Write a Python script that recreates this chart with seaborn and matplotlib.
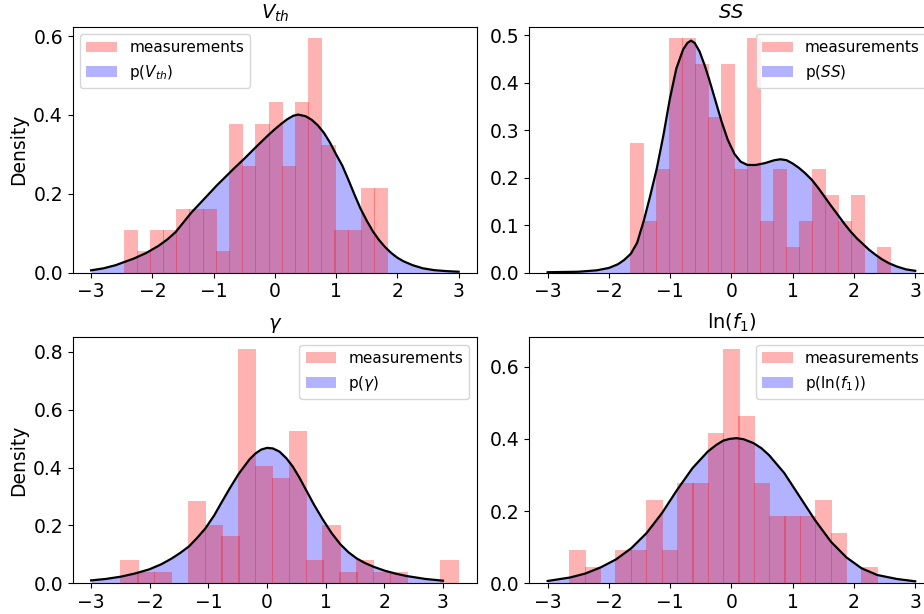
import numpy as np
import matplotlib
matplotlib.use("Agg")
import matplotlib.pyplot as plt
import seaborn as sns
from matplotlib.patches import Patch

# ---------------- data ----------------
titles = ["$V_{th}$", "$SS$", "$\\gamma$", "ln($f_1$)"]
model_labels = ["p($V_{th}$)", "p($SS$)", "p($\\gamma$)", "p(ln($f_1$))"]
legend_locs = ["upper left", "upper right", "upper right", "upper right"]

# measurement histograms: 20 bins between data min and max, counts per bin
vth_range = (-2.462, 1.843)
vth_counts = [2, 1, 2, 2, 3, 3, 3, 1, 7, 5, 7, 8, 5, 8, 11, 6, 2, 2, 4, 4]
ss_range = (-1.642, 2.598)
ss_counts = [5, 2, 4, 9, 9, 8, 6, 8, 4, 9, 2, 4, 1, 2, 4, 3, 2, 3, 0, 1]
gamma_range = (-2.49, 3.255)
gamma_counts = [2, 1, 1, 0, 7, 5, 4, 20, 10, 9, 13, 2, 5, 1, 2, 1, 1, 0, 0, 2]
lnf1_range = (-2.636, 2.381)
lnf1_counts = [2, 1, 0, 2, 2, 5, 2, 6, 6, 9, 14, 10, 6, 4, 4, 4, 5, 3, 0, 1]

# model density curves p(.)
vth_px = [-3.0, -2.8, -2.6, -2.46, -2.3, -2.1, -1.9, -1.75, -1.62, -1.36, -1.1,
          -0.95, -0.8, -0.65, -0.5, -0.3, -0.1, 0.0, 0.1, 0.2, 0.3, 0.38, 0.5,
          0.6, 0.7, 0.8, 0.9, 1.0, 1.1, 1.2, 1.3, 1.4, 1.5, 1.6, 1.7, 1.8, 1.9,
          2.0, 2.1, 2.25, 2.42, 2.6, 2.8, 3.0]
vth_py = [0.006, 0.011, 0.019, 0.027, 0.036, 0.050, 0.068, 0.085, 0.103, 0.153,
          0.196, 0.221, 0.244, 0.267, 0.289, 0.320, 0.350, 0.364, 0.377, 0.389,
          0.398, 0.401, 0.397, 0.388, 0.374, 0.355, 0.330, 0.300, 0.272, 0.236,
          0.198, 0.162, 0.132, 0.105, 0.083, 0.065, 0.050, 0.038, 0.029, 0.019,
          0.011, 0.0065, 0.004, 0.0025]

ss_px = [-3.0, -2.5, -2.2, -2.0, -1.85, -1.75, -1.642, -1.54, -1.43, -1.33,
         -1.218, -1.11, -1.006, -0.95, -0.9, -0.79, -0.72, -0.66, -0.6, -0.52,
         -0.44, -0.37, -0.26, -0.16, -0.06, 0.05, 0.15, 0.26, 0.4, 0.55, 0.7,
         0.8, 0.9, 1.0, 1.1, 1.2, 1.31, 1.42, 1.52, 1.62, 1.73, 1.85, 1.95,
         2.05, 2.15, 2.25, 2.36, 2.46, 2.57, 2.7, 2.85, 3.0]
ss_py = [0.001, 0.002, 0.005, 0.010, 0.018, 0.027, 0.040, 0.063, 0.110, 0.160,
         0.220, 0.290, 0.366, 0.400, 0.430, 0.470, 0.484, 0.489, 0.484, 0.466,
         0.438, 0.410, 0.362, 0.318, 0.280, 0.250, 0.234, 0.227, 0.227, 0.231,
         0.237, 0.239, 0.237, 0.230, 0.221, 0.210, 0.196, 0.178, 0.160, 0.142,
         0.123, 0.102, 0.086, 0.072, 0.060, 0.048, 0.037, 0.028, 0.020, 0.013,
         0.007, 0.004]

gamma_px = [-3.0, -2.75, -2.49, -2.25, -2.01, -1.8, -1.623, -1.48, -1.334,
            -1.2, -1.05, -0.9, -0.768, -0.63, -0.484, -0.3, -0.195, -0.1, 0.0,
            0.1, 0.213, 0.33, 0.44, 0.55, 0.667, 0.8, 0.955, 1.1, 1.245, 1.39,
            1.528, 1.67, 1.812, 2.0, 2.2, 2.385, 2.7, 3.0]
gamma_py = [0.010, 0.015, 0.023, 0.034, 0.048, 0.066, 0.086, 0.105, 0.127,
            0.155, 0.190, 0.235, 0.282, 0.330, 0.378, 0.428, 0.449, 0.462,
            0.468, 0.466, 0.455, 0.432, 0.403, 0.366, 0.322, 0.272, 0.219,
            0.174, 0.136, 0.107, 0.086, 0.070, 0.0575, 0.044, 0.033, 0.025,
            0.015, 0.009]

lnf1_px = [-3.0, -2.636, -2.386, -2.136, -1.886, -1.636, -1.386, -1.136, -0.886,
           -0.636, -0.386, -0.25, -0.136, -0.03, 0.082, 0.2, 0.364, 0.49, 0.614,
           0.864, 1.114, 1.364, 1.625, 1.875, 2.125, 2.38, 2.7, 3.0]
lnf1_py = [0.0065, 0.016, 0.027, 0.044, 0.066, 0.097, 0.139, 0.194, 0.259,
           0.319, 0.365, 0.383, 0.395, 0.400, 0.402, 0.399, 0.388, 0.374, 0.355,
           0.305, 0.240, 0.175, 0.115, 0.072, 0.0415, 0.023, 0.012, 0.0055]

hist_ranges = [vth_range, ss_range, gamma_range, lnf1_range]
hist_counts = [vth_counts, ss_counts, gamma_counts, lnf1_counts]
curves_x = [vth_px, ss_px, gamma_px, lnf1_px]
curves_y = [vth_py, ss_py, gamma_py, lnf1_py]

# ---------------- layout ----------------
W, H = 924, 614
fig = plt.figure(figsize=(W / 100, H / 100), dpi=100)
AW, AH = 404.3, 246.0
origins = [(72.7, 26.7), (529.3, 26.7), (72.7, 337.3), (529.3, 337.3)]

RED = (1, 0, 0, 0.3)
BLUE = (0, 0, 1, 0.3)

for i in range(4):
    l, t = origins[i]
    ax = fig.add_axes([l / W, 1 - (t + AH) / H, AW / W, AH / H])
    cx = np.array(curves_x[i])
    cy = np.array(curves_y[i])
    # model density: filled area + black line
    ax.fill_between(cx, cy, color=BLUE, linewidth=0, zorder=1)
    # measurement histogram
    lo, hi = hist_ranges[i]
    counts = np.array(hist_counts[i], dtype=float)
    nb = len(counts)
    edges = np.linspace(lo, hi, nb + 1)
    centers = (edges[:-1] + edges[1:]) / 2
    sns.histplot(x=centers, weights=counts, bins=nb, binrange=(lo, hi),
                 stat="density", color="red", alpha=0.3, shrink=1.08,
                 linewidth=0, ax=ax, zorder=2)
    sns.lineplot(x=cx, y=cy, color="black", linewidth=1.6, ax=ax, zorder=3)

    ax.set_title(titles[i], fontsize=14)
    ax.set_ylabel("Density" if i % 2 == 0 else "", fontsize=13.5)
    ax.set_xlabel("")
    ax.tick_params(labelsize=13.5)
    handles = [Patch(facecolor=RED, linewidth=0), Patch(facecolor=BLUE, linewidth=0)]
    ax.legend(handles, ["measurements", model_labels[i]], loc=legend_locs[i],
              fontsize=11)

fig.savefig("out.png", dpi=100)
